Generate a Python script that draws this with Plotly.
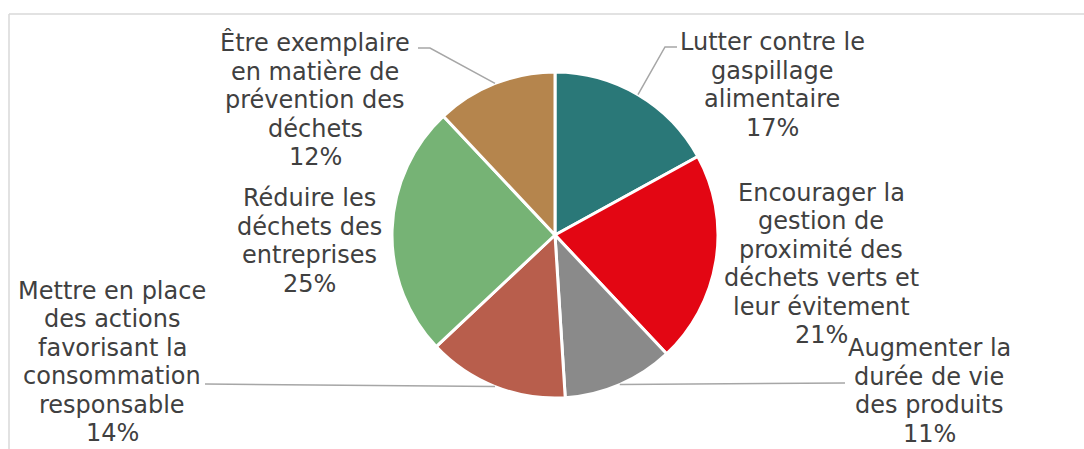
import math
import plotly.graph_objects as go

labels = [
    "Lutter contre le<br>gaspillage<br>alimentaire",
    "Encourager la<br>gestion de<br>proximité des<br>déchets verts et<br>leur évitement",
    "Augmenter la<br>durée de vie<br>des produits",
    "Mettre en place<br>des actions<br>favorisant la<br>consommation<br>responsable",
    "Réduire les<br>déchets des<br>entreprises",
    "Être exemplaire<br>en matière de<br>prévention des<br>déchets",
]
values = [17, 21, 11, 14, 25, 12]
colors = ["#2a7878", "#e30613", "#8a8a8a", "#b85e4c", "#76b375", "#b5854d"]

W, H = 1084, 449
CX, CY, R = 555, 235, 163  # pie centre / radius in px

# label placement (px): centre x, centre y of text block
label_pos = [(772, 85), (821, 264), (929, 391), (112, 362), (309, 241), (315, 100)]
# leader line elbow points (px) for labels that have one; None = no leader
leader_elbow = [
    [(665, 47), (677, 47)],
    None,
    [(845, 383)],
    [(205, 384)],
    None,
    [(430, 48), (418, 48)],
]

TEXT_COLOR = "#404040"
FONT = "DejaVu Sans"
FS = 24
LINE_H = 28.5

fig = go.Figure()
fig.add_trace(go.Pie(
    labels=labels,
    values=values,
    sort=False,
    direction="clockwise",
    rotation=0,
    marker=dict(colors=colors, line=dict(color="white", width=3)),
    textinfo="none",
    hoverinfo="label+percent",
    showlegend=False,
    domain=dict(x=[(CX - R) / W, (CX + R) / W], y=[1 - (CY + R) / H, 1 - (CY - R) / H]),
))

def px(x, y):
    return x / W, 1 - y / H

total = sum(values)
cum = 0
annotations = []
shapes = []
for i, (lab, v) in enumerate(zip(labels, values)):
    mid = (cum + v / 2) / total * 2 * math.pi
    cum += v
    pct = round(v / total * 100)
    lx, ly = label_pos[i]
    lines = lab.split("<br>") + [f"{pct}%"]
    n = len(lines)
    for k, line in enumerate(lines):
        ax, ay = px(lx, ly + (k - (n - 1) / 2) * LINE_H)
        annotations.append(dict(
            x=ax, y=ay, xref="paper", yref="paper",
            text=line, showarrow=False,
            xanchor="center", yanchor="middle", align="center",
            font=dict(family=FONT, size=FS, color=TEXT_COLOR),
        ))
    if leader_elbow[i]:
        pts = [(CX + R * math.sin(mid), CY - R * math.cos(mid))] + leader_elbow[i]
        path = "M " + " L ".join(f"{px(x, y)[0]} {px(x, y)[1]}" for x, y in pts)
        shapes.append(dict(type="path", xref="paper", yref="paper", path=path,
                           line=dict(color="#a6a6a6", width=1.5)))

# chart frame (top and left edges visible)
shapes.append(dict(type="line", xref="paper", yref="paper",
                   x0=9 / W, y0=1 - 14 / H, x1=1, y1=1 - 14 / H,
                   line=dict(color="#d9d9d9", width=1.5)))
shapes.append(dict(type="line", xref="paper", yref="paper",
                   x0=9 / W, y0=1 - 14 / H, x1=9 / W, y1=0,
                   line=dict(color="#d9d9d9", width=1.5)))

fig.update_layout(
    width=W, height=H,
    margin=dict(l=0, r=0, t=0, b=0),
    paper_bgcolor="white", plot_bgcolor="white",
    annotations=annotations, shapes=shapes,
)
fig.write_html(
    "out.html",
    config={"displayModeBar": False},
    post_script="document.body.style.margin='0';document.body.style.overflow='hidden';",
)
